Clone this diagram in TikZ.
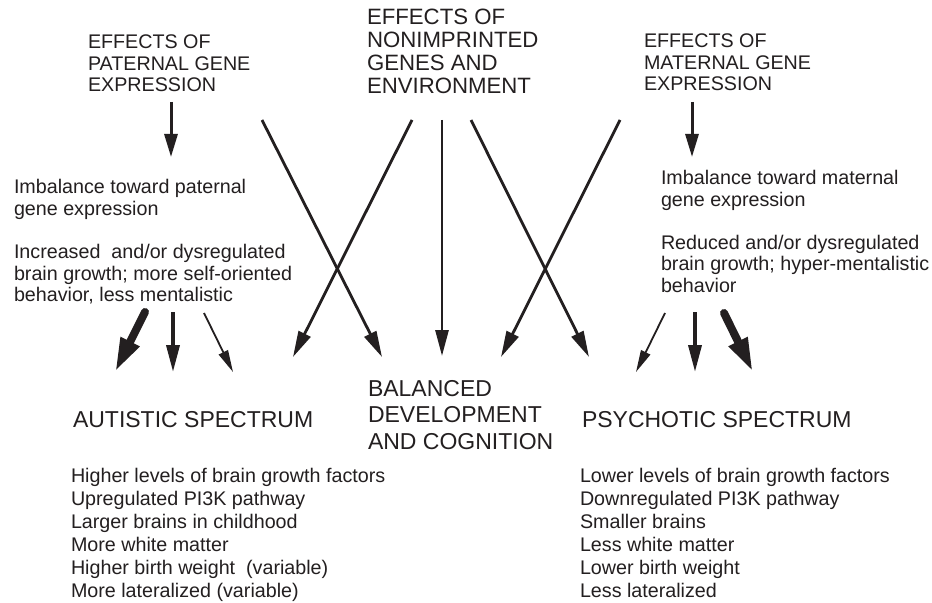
\documentclass[tikz,border=0pt]{standalone}
\usepackage{fontspec}
\setmainfont{Liberation Sans}
\usetikzlibrary{arrows.meta}
\definecolor{ink}{RGB}{35,31,32}
\newcommand\mylines[1]{\begin{tabular}[t]{@{}l@{}}#1\end{tabular}}
\tikzset{
  txt/.style={anchor=base west, inner sep=0pt, outer sep=0pt, text=ink},
  headsm/.style={txt, font=\fontsize{19.7bp}{21.5bp}\selectfont},
  headbig/.style={txt, font=\fontsize{22.2bp}{22.7bp}\selectfont},
  spec/.style={txt, font=\fontsize{23bp}{26.5bp}\selectfont},
  body/.style={txt, font=\fontsize{19.7bp}{21.5bp}\selectfont},
  list/.style={txt, font=\fontsize{19.7bp}{23.1bp}\selectfont},
  arrmain/.style={draw=ink, line width=3bp, -{Triangle[length=23bp,width=13bp]}},
  arrcross/.style={draw=ink, line width=2.8bp, -{Triangle[length=26bp,width=13bp]}},
  arrthick/.style={draw=ink, line width=8bp, line cap=round, -{Triangle[length=34bp,width=19bp]}},
  arrmid/.style={draw=ink, line width=3.6bp, -{Triangle[length=27bp,width=13bp]}},
  arrthin/.style={draw=ink, line width=1.8bp, -{Triangle[length=22bp,width=10bp]}}
}
\begin{document}
\begin{tikzpicture}[x=1bp, y=-1bp]
\fill[white] (0,0) rectangle (932,603);
\useasboundingbox (0,0) rectangle (932,603);

% headings
\node[headsm] (pathead) at (88,49) {\mylines{EFFECTS OF\\PATERNAL GENE\\EXPRESSION}};
\node[headbig] (envhead) at (367,25) {\mylines{EFFECTS OF\\NONIMPRINTED\\GENES AND\\ENVIRONMENT}};
\node[headsm] (mathead) at (644,48) {\mylines{EFFECTS OF\\MATERNAL GENE\\EXPRESSION}};

% middle texts
\node[body] (pattext) at (14,194) {\mylines{Imbalance toward paternal\\gene expression\\ \\Increased\ \ and/or dysregulated\\brain growth; more self-oriented\\behavior, less mentalistic}};
\node[body] (mattext) at (661,185) {\mylines{Imbalance toward maternal\\gene expression\\ \\Reduced and/or dysregulated\\brain growth; hyper-mentalistic\\behavior}};

% outcomes
\node[spec] (aut) at (73,427) {AUTISTIC SPECTRUM};
\node[spec] (bal) at (368,396) {\mylines{BALANCED\\DEVELOPMENT\\AND COGNITION}};
\node[spec] (psy) at (582,427) {PSYCHOTIC SPECTRUM};

% lists
\node[list] (autlist) at (71,482) {\mylines{Higher levels of brain growth factors\\Upregulated PI3K pathway\\Larger brains in childhood\\More white matter\\Higher birth weight\ \ (variable)\\More lateralized (variable)}};
\node[list] (psylist) at (580,482) {\mylines{Lower levels of brain growth factors\\Downregulated PI3K pathway\\Smaller brains\\Less white matter\\Lower birth weight\\Less lateralized}};

% connector end points
\coordinate (patS) at (171,102); \coordinate (patE) at (171,157);
\coordinate (matS) at (692,102); \coordinate (matE) at (692,157);
\coordinate (eA) at (262,120); \coordinate (eB) at (412,120); \coordinate (eV) at (442,120);
\coordinate (eC) at (471,120); \coordinate (eD) at (620,120);
\coordinate (balL) at (382,357); \coordinate (autR) at (293,357); \coordinate (balC) at (442,356);
\coordinate (psyL) at (589,357); \coordinate (balR) at (501,357);
\coordinate (pt1) at (145,312); \coordinate (at1) at (115,372);
\coordinate (pt2) at (173,312); \coordinate (at2) at (173,372);
\coordinate (pt3) at (204,313); \coordinate (at3) at (233,372);
\coordinate (mt1) at (665,313); \coordinate (ps1) at (636,372);
\coordinate (mt2) at (695,312); \coordinate (ps2) at (695,372);
\coordinate (mt3) at (724,313); \coordinate (ps3) at (753,372);

% arrows
\draw[arrmain] (patS) -- (patE);
\draw[arrmain] (matS) -- (matE);
\draw[arrcross] (eA) -- (balL);
\draw[arrcross] (eB) -- (autR);
\draw[arrcross] (eV) -- (balC);
\draw[arrcross] (eC) -- (psyL);
\draw[arrcross] (eD) -- (balR);
\draw[arrthick] (pt1) -- (at1);
\draw[arrmid] (pt2) -- (at2);
\draw[arrthin] (pt3) -- (at3);
\draw[arrthin] (mt1) -- (ps1);
\draw[arrmid] (mt2) -- (ps2);
\draw[arrthick] (mt3) -- (ps3);
\end{tikzpicture}
\end{document}
